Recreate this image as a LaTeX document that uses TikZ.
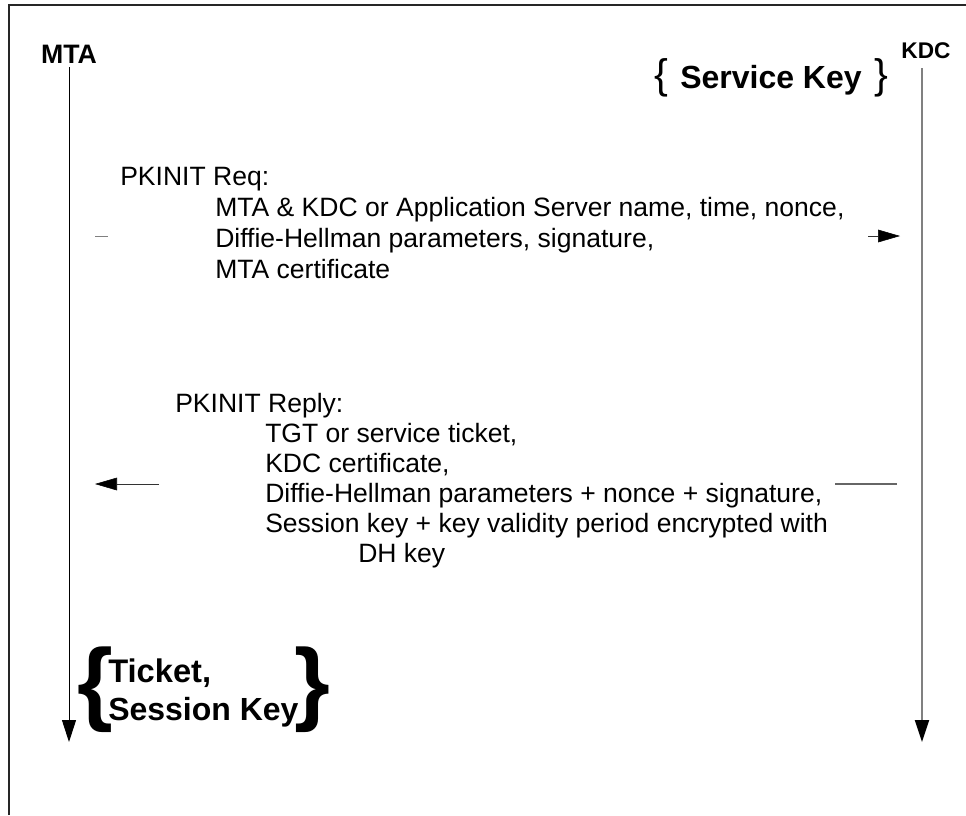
\documentclass[tikz,border=0pt]{standalone}
\usepackage{fontspec}
\setmainfont{Liberation Sans}
\usetikzlibrary{arrows.meta}

\tikzset{
  msg/.style={anchor=base west, inner sep=0pt, font=\fontsize{19.9}{24}\selectfont},
  actor/.style={anchor=base, inner sep=0pt},
  keytext/.style={anchor=base west, inner sep=0pt, font=\fontsize{24}{28}\selectfont\bfseries},
  lifeline/.style={-{Triangle[length=16.5pt,width=10.5pt,color=black]}},
  tip/.style={-{Triangle[length=16.5pt,width=9.5pt,color=black]}}
}

\begin{document}
\begin{tikzpicture}[x=0.75pt, y=-0.75pt]
	\useasboundingbox (0,0) rectangle (966,815);
	\draw [line width=1.5pt, black!85] (9,815) -- (9,5) -- (966,5);

	% actors and life lines
	\node [actor, font=\fontsize{20}{24}\selectfont\bfseries] (mta) at (69,63) {MTA};
	\node [actor, font=\fontsize{17}{20}\selectfont\bfseries] (kdc) at (926,58) {KDC};
	\coordinate (M1) at (69,67);
	\coordinate (M2) at (69,742);
	\coordinate (K1) at (922,68);
	\coordinate (K2) at (922,742);
	\draw [lifeline, line width=0.75pt] (M1) -- (M2);
	\draw [lifeline, line width=1.5pt, black!50] (K1) -- (K2);

	% key held by the KDC
	\node [keytext] (skey) at (680,88) {Service Key};
	\node [anchor=south west, inner sep=0pt, font=\fontsize{31}{31}\selectfont] (skl) at (654,97) {\{};
	\node [anchor=south west, inner sep=0pt, font=\fontsize{31}{31}\selectfont] (skr) at (874,97) {\}};

	% request
	\node [msg] (rq0) at (120,185) {PKINIT Req:};
	\node [msg] (rq1) at (215,216) {MTA \& KDC or Application Server name, time, nonce,};
	\node [msg] (rq2) at (215,247) {Diffie-Hellman parameters, signature,};
	\node [msg] (rq3) at (215,278) {MTA certificate};
	\coordinate (A1) at (95,236);
	\coordinate (A2) at (108,236);
	\coordinate (A3) at (868,236);
	\coordinate (A4) at (900,236);
	\draw [black!50] (A1) -- (A2);
	\draw [tip, black!80] (A3) -- (A4);

	% reply
	\node [msg] (rp0) at (175,412) {PKINIT Reply:};
	\node [msg] (rp1) at (265,442) {TGT or service ticket,};
	\node [msg] (rp2) at (265,472) {KDC certificate,};
	\node [msg] (rp3) at (265,502) {Diffie-Hellman parameters + nonce + signature,};
	\node [msg] (rp4) at (265,532) {Session key + key validity period encrypted with};
	\node [msg] (rp5) at (358,562) {DH key};
	\coordinate (B1) at (897,484);
	\coordinate (B2) at (835,484);
	\coordinate (B3) at (159,484);
	\coordinate (B4) at (95,484);
	\draw [line width=1.1pt, black!60] (B1) -- (B2);
	\draw [tip, black!80] (B3) -- (B4);

	% what the MTA ends up with
	\node [keytext, font=\fontsize{24.5}{28}\selectfont\bfseries] (tkt) at (108,682) {Ticket,};
	\node [keytext] (sess) at (108,720) {Session Key};
	\node [anchor=south west, inner sep=0pt, font=\fontsize{69}{69}\selectfont\bfseries] (tl) at (77,733) {\{};
	\node [anchor=south west, inner sep=0pt, font=\fontsize{69}{69}\selectfont\bfseries] (tr) at (294,733) {\}};
\end{tikzpicture}
\end{document}
